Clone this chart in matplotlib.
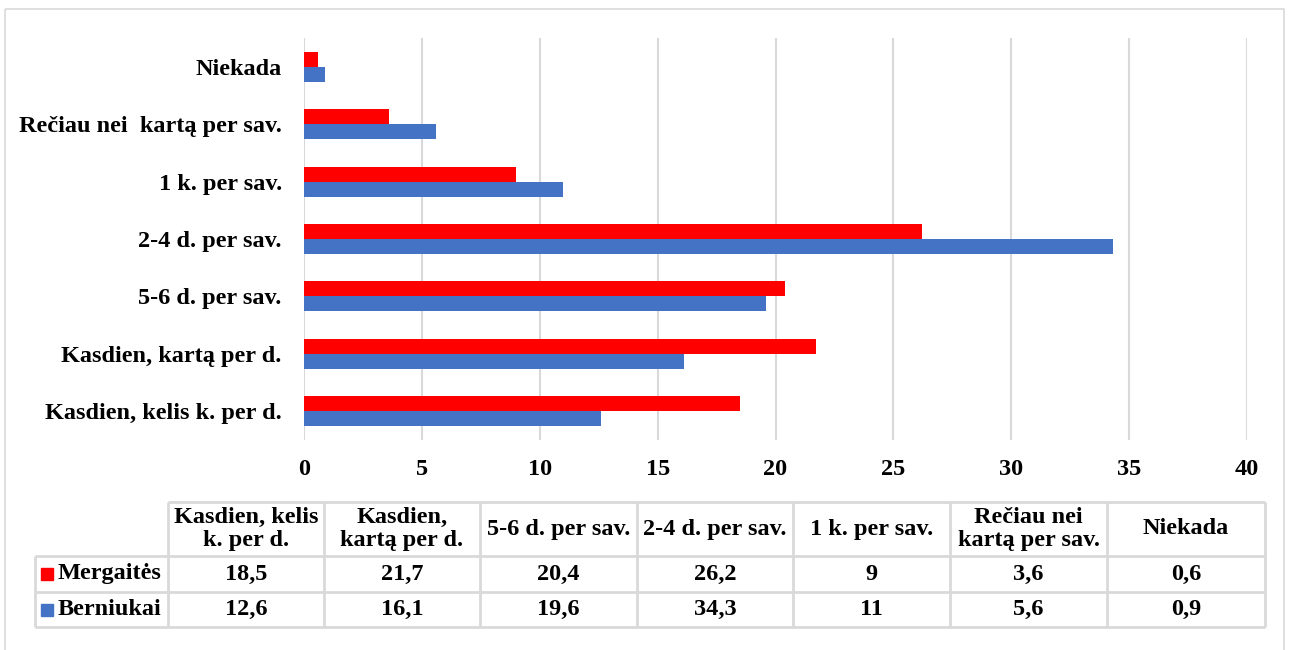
import matplotlib.pyplot as plt
from matplotlib.patches import Rectangle

categories = [
    "Kasdien, kelis k. per d.",
    "Kasdien, kartą per d.",
    "5-6 d. per sav.",
    "2-4 d. per sav.",
    "1 k. per sav.",
    "Rečiau nei  kartą per sav.",
    "Niekada",
]
table_headers = [
    "Kasdien, kelis\nk. per d.",
    "Kasdien,\nkartą per d.",
    "5-6 d. per sav.",
    "2-4 d. per sav.",
    "1 k. per sav.",
    "Rečiau nei\nkartą per sav.",
    "Niekada",
]
mergaites = [18.5, 21.7, 20.4, 26.2, 9, 3.6, 0.6]
berniukai = [12.6, 16.1, 19.6, 34.3, 11, 5.6, 0.9]
series_names = ["Mergaitės", "Berniukai"]
x_ticks = [0, 5, 10, 15, 20, 25, 30, 35, 40]

RED = "#FF0000"
BLUE = "#4472C4"
GRID = "#D9D9D9"
FONT = "Liberation Serif"
FS = 17.5

plt.rcParams["font.family"] = [FONT, "DejaVu Serif"]
plt.rcParams["font.weight"] = "bold"

W, H = 1295, 650
fig = plt.figure(figsize=(W / 100, H / 100), dpi=100)

# pixel-space overlay for the frame and the data table
ov = fig.add_axes([0, 0, 1, 1], zorder=0)
ov.set_xlim(0, W)
ov.set_ylim(H, 0)
ov.axis("off")
ov.add_patch(Rectangle((5, 9), 1279, 660, fill=False, edgecolor=GRID, lw=1.2))

# bar chart
ax = fig.add_axes([304 / W, 1 - 440 / H, (1247 - 304) / W, (440 - 38) / H], zorder=1)
ax.patch.set_alpha(0)
pos = range(len(categories))
h = 0.26
ax.barh([p + h / 2 for p in pos], mergaites, height=h, color=RED, zorder=3)
ax.barh([p - h / 2 for p in pos], berniukai, height=h, color=BLUE, zorder=3)
ax.set_xlim(0, 40)
ax.set_ylim(-0.5, len(categories) - 0.5)
ax.set_xticks(x_ticks)
ax.set_xticklabels([str(t) for t in x_ticks], fontsize=FS, fontweight="bold")
ax.set_yticks(list(pos))
ax.set_yticklabels(categories, fontsize=FS, fontweight="bold")
ax.tick_params(length=0, pad=14, axis="x")
ax.tick_params(length=0, pad=16, axis="y")
ax.grid(axis="x", color=GRID, lw=1.5, zorder=0)
for s in ax.spines.values():
    s.set_visible(False)

# data table below the chart
col_edges = [168, 324, 480, 637, 793, 950, 1107, 1265]
row_edges = [502, 556, 592, 627]
lab_left = 35

def fmt(v):
    return f"{v:g}".replace(".", ",")

tl = dict(color=GRID, lw=2, solid_capstyle="butt")
ov.plot([col_edges[0], col_edges[-1]], [row_edges[0]] * 2, **tl)
for y in row_edges[1:]:
    ov.plot([lab_left, col_edges[-1]], [y, y], **tl)
for x in col_edges:
    ov.plot([x, x], [row_edges[0], row_edges[-1]], **tl)
ov.plot([lab_left, lab_left], [row_edges[1], row_edges[-1]], **tl)

for i, hdr in enumerate(table_headers):
    cx = (col_edges[i] + col_edges[i + 1]) / 2
    cy = (row_edges[0] + row_edges[1]) / 2
    ov.text(cx, cy, hdr, ha="center", va="center", fontsize=FS,
            fontweight="bold", linespacing=1.15)

for r, (name, vals, col) in enumerate(zip(series_names, [mergaites, berniukai], [RED, BLUE])):
    cy = (row_edges[r + 1] + row_edges[r + 2]) / 2
    ov.add_patch(Rectangle((41, cy - 6), 12, 12, color=col))
    ov.text(58, cy, name, ha="left", va="center", fontsize=FS, fontweight="bold")
    for i, v in enumerate(vals):
        cx = (col_edges[i] + col_edges[i + 1]) / 2
        ov.text(cx, cy, fmt(v), ha="center", va="center", fontsize=FS,
                fontweight="bold")

fig.savefig("out.png", dpi=100)
